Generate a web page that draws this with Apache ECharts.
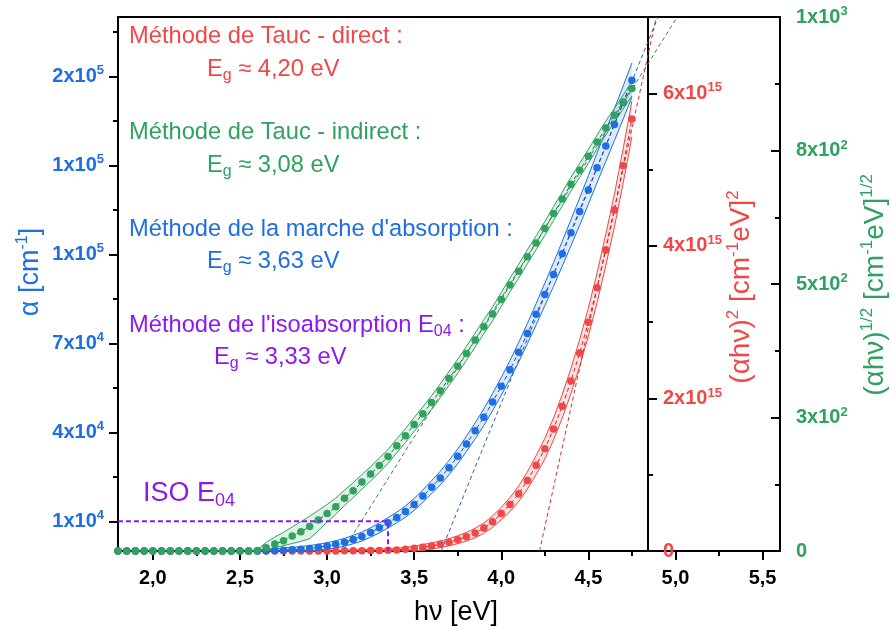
<!DOCTYPE html>
<html><head><meta charset="utf-8">
<script src="https://cdn.jsdelivr.net/npm/echarts@6/dist/echarts.min.js"></script>
<style>html,body{margin:0;padding:0;background:#fff}#c{width:891px;height:630px}</style>
</head><body><div id="c"></div><script>
// ---------- data ----------
const hv = [1.80,1.85,1.90,1.95,2.00,2.05,2.10,2.15,2.20,2.25,2.30,2.35,2.40,2.45,2.50,2.55,2.60,
  2.65,2.70,2.75,2.80,2.85,2.90,2.95,3.00,3.05,3.10,3.15,3.20,3.25,3.30,3.35,3.40,3.45,3.50,3.55,
  3.60,3.65,3.70,3.75,3.80,3.85,3.90,3.95,4.00,4.05,4.10,4.15,4.20,4.25,4.30,4.35,4.40,4.45,4.50,
  4.55,4.60,4.65,4.70,4.75];
// alpha [cm-1]  (blue, left axis)
const alphaVals = [0,0,0,0,0,0,0,0,0,0,0,0,0,0,0,0,0,
  100,160,250,380,570,880,1250,1700,2250,2950,3900,4850,6250,7800,9500,11300,13300,15700,18500,
  21500,24600,28100,31900,36100,40500,45100,50200,55500,61100,67000,73300,79800,86500,93200,100200,
  107300,114400,121700,129200,136500,143800,151200,158700];
// (alpha h nu)^2 (red, right inner axis)
const directVals = [0,0,0,0,0,0,0,0,0,0,0,0,0,0,0,0,0,
  0,0,0,0,0,0,0,0,0,2e12,3e12,4e12,6e12,8e12,1.0e13,1.3e13,2.3e13,3.5e13,4.9e13,
  6.5e13,8.8e13,1.15e14,1.48e14,1.87e14,2.36e14,3.0e14,3.85e14,4.9e14,6.1e14,7.5e14,9.25e14,1.125e15,1.34e15,1.6e15,1.897e15,
  2.228e15,2.596e15,2.998e15,3.452e15,3.946e15,4.47e15,5.051e15,5.663e15];
// (alpha h nu)^1/2 (green, right outer axis)
const indirectVals = [0,0,0,0,0,0,0,0,0,0,0,0,0,0,0,0,1,
  6,13,19,28,36,46,58,70,83,99,113,129,144,160,177,197,216,237,257,
  278,300,323,346,370,395,420,444,471,498,524,551,577,604,632,659,
  687,713,739,766,792,816,841,866];

// uncertainty bands
const bandX = [2.60,2.65,2.70,2.75,2.80,2.85,2.90,2.95,3.00,3.05,3.10,3.15,3.20,3.25,3.30,3.35,3.40,3.45,3.50,3.55,
  3.60,3.65,3.70,3.75,3.80,3.85,3.90,3.95,4.00,4.05,4.10,4.15,4.20,4.25,4.30,4.35,4.40,4.45,4.50,4.55,4.60,4.65,4.70,4.75];
const alphaLo = [0,0,0,0,0,0,100,300,600,1000,1600,2450,3350,4650,6100,7750,9500,11400,13700,16400,
  19300,22300,25700,29400,33500,37800,42300,47300,52500,58000,63700,69900,76200,82700,89200,96000,102900,109800,116900,124200,131300,138400,145600,152900];
const alphaHi = [200,600,800,1000,1250,1500,1850,2250,2800,3450,4250,5300,6350,7850,9500,11250,13100,15200,17700,20600,
  23700,26900,30500,34400,38700,43200,47900,53100,58500,64200,70300,76700,83400,90300,97200,104400,111700,119000,126500,134200,141700,149200,156800,164500];
const directLo = [0,0,0,0,0,0,0,0,0,0,0,0,0,0,0,0,0,0,1e12,1.2e13,
  2.5e13,4.5e13,6.8e13,9.6e13,1.30e14,1.74e14,2.32e14,3.10e14,4.08e14,5.18e14,6.48e14,8.12e14,1.0e15,1.205e15,1.455e15,1.742e15,2.063e15,2.421e15,2.813e15,3.257e15,3.741e15,4.255e15,4.826e15,5.428e15];
const directHi = [0,0,0,0,0,0,0,0,0,0,1e13,1.3e13,1.6e13,2.0e13,2.5e13,3.0e13,3.6e13,4.6e13,6.5e13,8.6e13,
  1.05e14,1.31e14,1.62e14,2.0e14,2.44e14,2.98e14,3.68e14,4.60e14,5.72e14,7.02e14,8.52e14,1.038e15,1.25e15,1.475e15,1.745e15,2.052e15,2.393e15,2.771e15,3.183e15,3.647e15,4.151e15,4.685e15,5.276e15,5.898e15];
const indirectLo = [0,2,6,10,14,18,23,38,54,69,85,100,116,131,147,164,184,203,224,244,
  265,287,310,333,357,382,407,431,458,485,511,538,564,591,619,646,674,700,726,753,779,803,828,852];
const indirectHi = [2,16,26,35,45,55,65,76,87,99,114,128,143,158,174,190,210,229,250,270,
  291,313,336,359,383,408,433,457,484,511,537,564,590,617,645,672,700,726,752,779,805,829,854,880];

// tangent (extrapolation) lines and iso-absorption guide
const tangentDirect = [[4.22, 0], [4.89, 7e15]];
const tangentAlpha = [[3.655, 0], [4.90, 180000]];
const tangentIndirect = [[3.09, 0], [5.01, 1000]];
const isoLine = [[1.8, 1e4], [3.35, 1e4], [3.35, 0]];

// axis ticks
const xMajor = [2.0, 2.5, 3.0, 3.5, 4.0, 4.5, 5.0, 5.5];
const xMinor = [2.25, 2.75, 3.25, 3.75, 4.25, 4.75, 5.25];
const alphaMajor = [1e4, 4e4, 7e4, 1e5, 1.3e5, 1.6e5];
const alphaMinor = [2.5e4, 5.5e4, 8.5e4, 1.15e5, 1.45e5, 1.75e5];
const directMajor = [0, 2e15, 4e15, 6e15];
const directMinor = [1e15, 3e15, 5e15];
const indirectMajor = [0, 250, 500, 750, 1000];
const indirectMinor = [125, 375, 625, 875];

// ---------- style ----------
const RED = '#F14747', BLUE = '#1E6FE2', GREEN = '#2EA25E', PURPLE = '#8B1AF0';
const FONT = 'Liberation Sans';

function sci(v) {
  if (v === 0) return '{b|0}';
  let e = Math.floor(Math.log10(v) + 1e-9);
  let m = Math.round(v / Math.pow(10, e));
  if (m === 10) { m = 1; e += 1; }
  return '{b|' + m + 'x10}{s|' + e + '}';
}
function tickRich(color) {
  return {
    b: {fontFamily: FONT, fontWeight: 'bold', fontSize: 20, color: color, lineHeight: 24},
    s: {fontFamily: FONT, fontWeight: 'bold', fontSize: 13, color: color, lineHeight: 13, verticalAlign: 'top'}
  };
}
const blackLine = {show: true, lineStyle: {color: '#000', width: 2}};

function zip(xs, ys) { return xs.map((x, i) => [x, ys[i]]); }

function bandSeries(lo, hi, yIdx, fill) {
  return {
    type: 'custom', xAxisIndex: 0, yAxisIndex: yIdx, silent: true, z: 1,
    data: bandX.map((x, i) => [x, lo[i], hi[i]]),
    encode: {x: 0, y: [1, 2]},
    clip: true,
    renderItem: function (params, api) {
      if (params.dataIndex !== 0) return null;
      const pts = [];
      for (let i = 0; i < bandX.length; i++) pts.push(api.coord([bandX[i], lo[i]]));
      for (let i = bandX.length - 1; i >= 0; i--) pts.push(api.coord([bandX[i], hi[i]]));
      return {type: 'polygon', shape: {points: pts}, style: {fill: fill, stroke: null}};
    }
  };
}
function lineSeries(data, yIdx, color, width, type, z) {
  return {type: 'line', xAxisIndex: 0, yAxisIndex: yIdx, data: data, symbol: 'none', silent: true,
    lineStyle: {color: color, width: width, type: type}, z: z, clip: true, animation: false};
}
function dotSeries(data, yIdx, color) {
  return {type: 'scatter', xAxisIndex: 0, yAxisIndex: yIdx, data: data, symbol: 'circle', symbolSize: 7.5,
    itemStyle: {color: color, opacity: 1}, z: 5, silent: true};
}

function group(vals, lo, hi, yIdx, color, fill, dark, tangent, tanColor) {
  return [
    bandSeries(lo, hi, yIdx, fill),
    lineSeries(zip(bandX, lo), yIdx, color, 1, 'solid', 2),
    lineSeries(zip(bandX, hi), yIdx, color, 1, 'solid', 2),
    lineSeries(tangent, yIdx, tanColor, 1, [4, 3], 3),
    lineSeries(zip(hv, vals), yIdx, dark, 1, [4, 3], 4),
    dotSeries(zip(hv, vals), yIdx, color)
  ];
}

const series = [].concat(
  group(directVals, directLo, directHi, 2, RED, 'rgba(241,71,71,0.17)', '#B52A2A', tangentDirect, '#D92B2B'),
  group(alphaVals, alphaLo, alphaHi, 0, BLUE, 'rgba(30,111,226,0.15)', '#174C9A', tangentAlpha, '#2A5DB5'),
  group(indirectVals, indirectLo, indirectHi, 4, GREEN, 'rgba(46,162,94,0.15)', '#1F6B3F', tangentIndirect, '#3F7A58'),
  [lineSeries(isoLine, 0, PURPLE, 2, [5, 3], 6)]
);

function minorY(min, max, pos, offset, vals, inside) {
  return {type: 'value', min: min, max: max, position: pos, offset: offset,
    axisLine: {show: false}, axisLabel: {show: false}, splitLine: {show: false},
    axisTick: {show: true, inside: inside, length: 5, customValues: vals, lineStyle: {color: '#000', width: 2}}};
}

const option = {
  animation: false,
  backgroundColor: '#fff',
  grid: {left: 118, right: 111, top: 17, bottom: 79, show: true, borderColor: '#000', borderWidth: 2, backgroundColor: 'transparent'},
  xAxis: [
    {type: 'value', min: 1.8, max: 5.6, position: 'bottom',
      axisLine: {show: true, onZero: false, lineStyle: {color: '#000', width: 2}},
      axisTick: {show: true, length: 9, customValues: xMajor, lineStyle: {color: '#000', width: 2}},
      axisLabel: {show: true, customValues: xMajor, margin: 17, color: '#000', fontFamily: FONT, fontWeight: 'bold', fontSize: 20,
        formatter: v => v.toFixed(1).replace('.', ',')},
      splitLine: {show: false}},
    {type: 'value', min: 1.8, max: 5.6, position: 'bottom',
      axisLine: {show: false, onZero: false}, axisLabel: {show: false}, splitLine: {show: false},
      axisTick: {show: true, length: 5, customValues: xMinor, lineStyle: {color: '#000', width: 2}}}
  ],
  yAxis: [
    {type: 'value', min: 0, max: 180000, position: 'left',
      axisLine: blackLine,
      axisTick: {show: true, length: 9, customValues: alphaMajor, lineStyle: {color: '#000', width: 2}},
      axisLabel: {show: true, customValues: alphaMajor, margin: 14, formatter: sci, rich: tickRich(BLUE)},
      splitLine: {show: false}},
    minorY(0, 180000, 'left', 0, alphaMinor, false),
    {type: 'value', min: 0, max: 7e15, position: 'right', offset: -132,
      axisLine: blackLine,
      axisTick: {show: true, length: 9, customValues: directMajor, lineStyle: {color: '#000', width: 2}},
      axisLabel: {show: true, customValues: directMajor, margin: 15, formatter: sci, rich: tickRich(RED)},
      splitLine: {show: false}},
    minorY(0, 7e15, 'right', -132, directMinor, false),
    {type: 'value', min: 0, max: 1000, position: 'right', offset: 0,
      axisLine: blackLine,
      axisTick: {show: true, inside: true, length: 9, customValues: indirectMajor, lineStyle: {color: '#000', width: 2}},
      axisLabel: {show: true, customValues: indirectMajor, margin: 16, formatter: sci, rich: tickRich(GREEN)},
      splitLine: {show: false}},
    minorY(0, 1000, 'right', 0, indirectMinor, true)
  ],
  series: series,
  graphic: (function () {
    const els = [];
    function txt(x, y, parts, color, size, subSize, rot, sup, align) {
      const rich = {
        n: {fontFamily: FONT, fontSize: size, fill: color, lineHeight: size + 5},
        g: {fontFamily: FONT, fontSize: subSize, fill: color, lineHeight: Math.round(subSize * 0.85), verticalAlign: sup ? 'top' : 'bottom'}
      };
      els.push({type: 'text', x: x, y: y, rotation: rot || 0, silent: true, z: 100,
        style: {text: parts, rich: rich, align: align || (rot ? 'center' : 'left'), verticalAlign: 'middle', fill: color,
          fontFamily: FONT, fontSize: size}});
    }
    txt(129, 36.5, '{n|Méthode de Tauc - direct :}', RED, 23.7, 16);
    txt(207, 69, '{n|E}{g|g}{n| ≈ 4,20 eV}', RED, 23.7, 16);
    txt(129, 132.5, '{n|Méthode de Tauc - indirect :}', GREEN, 23.7, 16);
    txt(207, 165, '{n|E}{g|g}{n| ≈ 3,08 eV}', GREEN, 23.7, 16);
    txt(129, 229, '{n|Méthode de la marche d\'absorption :}', BLUE, 23.7, 16);
    txt(207, 261, '{n|E}{g|g}{n| ≈ 3,63 eV}', BLUE, 23.7, 16);
    txt(129, 325, '{n|Méthode de l\'isoabsorption E}{g|04}{n| :}', PURPLE, 23.7, 16);
    txt(214, 357.5, '{n|E}{g|g}{n| ≈ 3,33 eV}', PURPLE, 23.7, 16);
    txt(143, 494, '{n|ISO E}{g|04}', PURPLE, 27, 18);
    // axis names
    txt(456, 613, '{n|hν [eV]}', '#000', 27, 16, 0, false, 'center');
    txt(31, 272, '{n|α [cm}{g|-1}{n|]}', BLUE, 27, 16, Math.PI / 2, true);
    txt(741, 287, '{n|(αhν)}{g|2}{n| [cm}{g|-1}{n|eV]}{g|2}', RED, 28, 17, Math.PI / 2, true);
    txt(875, 285, '{n|(αhν)}{g|1/2}{n| [cm}{g|-1}{n|eV]}{g|1/2}', GREEN, 28, 17, Math.PI / 2, true);
    return els;
  })()
};

const chart = echarts.init(document.getElementById('c'), null, {renderer: 'canvas'});
chart.setOption(option);
</script></body></html>
